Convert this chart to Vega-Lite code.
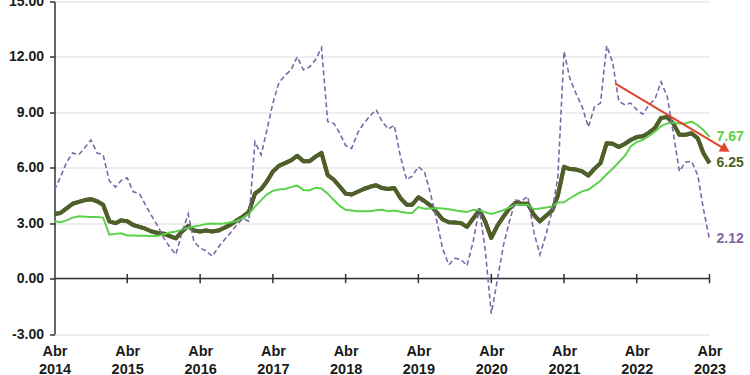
{
  "$schema": "https://vega.github.io/schema/vega-lite/v6.json",
  "width": 655,
  "height": 332.5,
  "autosize": {"type": "none"},
  "padding": {"left": 54.5, "top": 1.5, "right": 40.5, "bottom": 41},
  "background": "white",
  "config": {"view": {"stroke": null}, "font": "Liberation Sans"},
  "datasets": {
    "series": [
      {"date":"2014-04-01","s1":4.8,"s2":3.5,"s3":3.1},
      {"date":"2014-05-01","s1":5.5,"s2":3.55,"s3":3.05},
      {"date":"2014-06-01","s1":6.3,"s2":3.8,"s3":3.15},
      {"date":"2014-07-01","s1":6.8,"s2":4.05,"s3":3.3},
      {"date":"2014-08-01","s1":6.7,"s2":4.15,"s3":3.37},
      {"date":"2014-09-01","s1":7.1,"s2":4.25,"s3":3.35},
      {"date":"2014-10-01","s1":7.5,"s2":4.3,"s3":3.33},
      {"date":"2014-11-01","s1":6.8,"s2":4.18,"s3":3.33},
      {"date":"2014-12-01","s1":6.7,"s2":4.0,"s3":3.3},
      {"date":"2015-01-01","s1":5.3,"s2":3.1,"s3":2.38},
      {"date":"2015-02-01","s1":4.95,"s2":3.0,"s3":2.42},
      {"date":"2015-03-01","s1":5.3,"s2":3.15,"s3":2.45},
      {"date":"2015-04-01","s1":5.45,"s2":3.1,"s3":2.33},
      {"date":"2015-05-01","s1":4.7,"s2":2.9,"s3":2.33},
      {"date":"2015-06-01","s1":4.6,"s2":2.8,"s3":2.32},
      {"date":"2015-07-01","s1":4.0,"s2":2.7,"s3":2.32},
      {"date":"2015-08-01","s1":3.4,"s2":2.55,"s3":2.3},
      {"date":"2015-09-01","s1":2.85,"s2":2.47,"s3":2.3},
      {"date":"2015-10-01","s1":2.2,"s2":2.43,"s3":2.4},
      {"date":"2015-11-01","s1":1.7,"s2":2.3,"s3":2.5},
      {"date":"2015-12-01","s1":1.3,"s2":2.18,"s3":2.55},
      {"date":"2016-01-01","s1":2.5,"s2":2.55,"s3":2.65},
      {"date":"2016-02-01","s1":3.5,"s2":2.85,"s3":2.75},
      {"date":"2016-03-01","s1":2.0,"s2":2.6,"s3":2.82},
      {"date":"2016-04-01","s1":1.65,"s2":2.55,"s3":2.88},
      {"date":"2016-05-01","s1":1.5,"s2":2.6,"s3":2.95},
      {"date":"2016-06-01","s1":1.2,"s2":2.55,"s3":2.98},
      {"date":"2016-07-01","s1":1.7,"s2":2.6,"s3":2.97},
      {"date":"2016-08-01","s1":2.1,"s2":2.75,"s3":2.98},
      {"date":"2016-09-01","s1":2.5,"s2":2.92,"s3":3.05},
      {"date":"2016-10-01","s1":2.9,"s2":3.15,"s3":3.12},
      {"date":"2016-11-01","s1":3.25,"s2":3.35,"s3":3.27},
      {"date":"2016-12-01","s1":3.1,"s2":3.6,"s3":3.5},
      {"date":"2017-01-01","s1":7.4,"s2":4.6,"s3":3.9},
      {"date":"2017-02-01","s1":6.7,"s2":4.85,"s3":4.25},
      {"date":"2017-03-01","s1":8.0,"s2":5.25,"s3":4.55},
      {"date":"2017-04-01","s1":9.5,"s2":5.8,"s3":4.75},
      {"date":"2017-05-01","s1":10.6,"s2":6.1,"s3":4.82},
      {"date":"2017-06-01","s1":11.0,"s2":6.25,"s3":4.85},
      {"date":"2017-07-01","s1":11.3,"s2":6.4,"s3":4.95},
      {"date":"2017-08-01","s1":12.0,"s2":6.65,"s3":5.03},
      {"date":"2017-09-01","s1":11.3,"s2":6.35,"s3":4.8},
      {"date":"2017-10-01","s1":11.45,"s2":6.35,"s3":4.77},
      {"date":"2017-11-01","s1":11.85,"s2":6.6,"s3":4.92},
      {"date":"2017-12-01","s1":12.5,"s2":6.8,"s3":4.88},
      {"date":"2018-01-01","s1":8.5,"s2":5.6,"s3":4.6},
      {"date":"2018-02-01","s1":8.4,"s2":5.35,"s3":4.25},
      {"date":"2018-03-01","s1":7.9,"s2":5.0,"s3":3.95},
      {"date":"2018-04-01","s1":7.2,"s2":4.6,"s3":3.72},
      {"date":"2018-05-01","s1":7.05,"s2":4.55,"s3":3.68},
      {"date":"2018-06-01","s1":7.9,"s2":4.7,"s3":3.64},
      {"date":"2018-07-01","s1":8.4,"s2":4.85,"s3":3.64},
      {"date":"2018-08-01","s1":8.8,"s2":4.97,"s3":3.65},
      {"date":"2018-09-01","s1":9.15,"s2":5.05,"s3":3.7},
      {"date":"2018-10-01","s1":8.5,"s2":4.9,"s3":3.73},
      {"date":"2018-11-01","s1":8.1,"s2":4.85,"s3":3.64},
      {"date":"2018-12-01","s1":8.3,"s2":4.9,"s3":3.68},
      {"date":"2019-01-01","s1":6.6,"s2":4.36,"s3":3.62},
      {"date":"2019-02-01","s1":5.35,"s2":4.0,"s3":3.57},
      {"date":"2019-03-01","s1":5.55,"s2":4.0,"s3":3.55},
      {"date":"2019-04-01","s1":6.05,"s2":4.4,"s3":3.87},
      {"date":"2019-05-01","s1":5.8,"s2":4.2,"s3":3.78},
      {"date":"2019-06-01","s1":4.6,"s2":3.95,"s3":3.8},
      {"date":"2019-07-01","s1":3.2,"s2":3.6,"s3":3.82},
      {"date":"2019-08-01","s1":1.6,"s2":3.2,"s3":3.8},
      {"date":"2019-09-01","s1":0.75,"s2":3.05,"s3":3.75},
      {"date":"2019-10-01","s1":1.1,"s2":3.04,"s3":3.7},
      {"date":"2019-11-01","s1":1.03,"s2":3.0,"s3":3.65},
      {"date":"2019-12-01","s1":0.7,"s2":2.8,"s3":3.6},
      {"date":"2020-01-01","s1":2.0,"s2":3.25,"s3":3.72},
      {"date":"2020-02-01","s1":3.8,"s2":3.7,"s3":3.7},
      {"date":"2020-03-01","s1":1.6,"s2":3.1,"s3":3.6},
      {"date":"2020-04-01","s1":-1.9,"s2":2.2,"s3":3.5},
      {"date":"2020-05-01","s1":-0.1,"s2":2.85,"s3":3.6},
      {"date":"2020-06-01","s1":1.8,"s2":3.35,"s3":3.7},
      {"date":"2020-07-01","s1":3.1,"s2":3.8,"s3":3.85},
      {"date":"2020-08-01","s1":4.25,"s2":4.1,"s3":4.0},
      {"date":"2020-09-01","s1":4.2,"s2":4.05,"s3":4.0},
      {"date":"2020-10-01","s1":4.45,"s2":4.05,"s3":4.0},
      {"date":"2020-11-01","s1":2.5,"s2":3.45,"s3":3.75},
      {"date":"2020-12-01","s1":1.3,"s2":3.1,"s3":3.8},
      {"date":"2021-01-01","s1":2.4,"s2":3.4,"s3":3.85},
      {"date":"2021-02-01","s1":3.7,"s2":3.7,"s3":3.9},
      {"date":"2021-03-01","s1":5.5,"s2":4.5,"s3":4.12},
      {"date":"2021-04-01","s1":12.3,"s2":6.05,"s3":4.13},
      {"date":"2021-05-01","s1":10.8,"s2":5.93,"s3":4.35},
      {"date":"2021-06-01","s1":10.0,"s2":5.9,"s3":4.55},
      {"date":"2021-07-01","s1":9.3,"s2":5.8,"s3":4.72},
      {"date":"2021-08-01","s1":8.2,"s2":5.57,"s3":4.82},
      {"date":"2021-09-01","s1":9.3,"s2":5.95,"s3":5.05},
      {"date":"2021-10-01","s1":9.5,"s2":6.25,"s3":5.3},
      {"date":"2021-11-01","s1":12.6,"s2":7.33,"s3":5.65},
      {"date":"2021-12-01","s1":11.7,"s2":7.3,"s3":5.95},
      {"date":"2022-01-01","s1":9.6,"s2":7.12,"s3":6.3},
      {"date":"2022-02-01","s1":9.4,"s2":7.3,"s3":6.65},
      {"date":"2022-03-01","s1":9.5,"s2":7.5,"s3":7.15},
      {"date":"2022-04-01","s1":9.15,"s2":7.66,"s3":7.4},
      {"date":"2022-05-01","s1":8.9,"s2":7.7,"s3":7.5},
      {"date":"2022-06-01","s1":9.4,"s2":7.9,"s3":7.72},
      {"date":"2022-07-01","s1":9.7,"s2":8.15,"s3":7.95},
      {"date":"2022-08-01","s1":10.65,"s2":8.7,"s3":8.25},
      {"date":"2022-09-01","s1":9.85,"s2":8.74,"s3":8.4},
      {"date":"2022-10-01","s1":7.9,"s2":8.4,"s3":8.45},
      {"date":"2022-11-01","s1":5.8,"s2":7.78,"s3":8.4},
      {"date":"2022-12-01","s1":6.3,"s2":7.78,"s3":8.4},
      {"date":"2023-01-01","s1":6.35,"s2":7.87,"s3":8.5},
      {"date":"2023-02-01","s1":5.6,"s2":7.6,"s3":8.3},
      {"date":"2023-03-01","s1":3.8,"s2":6.8,"s3":8.05},
      {"date":"2023-04-01","s1":2.12,"s2":6.25,"s3":7.67}
    ],
    "zero": [{"value": 0}],
    "ticks": [
      {"date":"2015-04-01"},{"date":"2016-04-01"},{"date":"2017-04-01"},
      {"date":"2018-04-01"},{"date":"2019-04-01"},{"date":"2020-04-01"},
      {"date":"2021-04-01"},{"date":"2022-04-01"},{"date":"2023-04-01"}
    ],
    "arrow": [{"date":"2021-12-15","value":10.55,"date2":"2023-06-20","value2":7.0}],
    "labels": [
      {"date":"2023-04-01","value":7.67,"label":"7.67","series":"s3"},
      {"date":"2023-04-01","value":6.25,"label":"6.25","series":"s2"},
      {"date":"2023-04-01","value":2.12,"label":"2.12","series":"s1"}
    ]
  },
  "layer": [
    {
      "data": {"name": "series"},
      "mark": {"type": "line", "color": "#4e5f2a", "strokeWidth": 4, "strokeJoin": "round"},
      "encoding": {
        "x": {
          "field": "date", "type": "temporal", "title": null,
          "scale": {"type": "utc", "domain": [{"year": 2014, "month": 4, "date": 1, "utc": true}, {"year": 2023, "month": 4, "date": 1, "utc": true}]},
          "axis": {
            "title": null, "domain": false, "ticks": false, "grid": false,
            "values": [
              {"year": 2014, "month": 4, "date": 1, "utc": true},
              {"year": 2015, "month": 4, "date": 1, "utc": true},
              {"year": 2016, "month": 4, "date": 1, "utc": true},
              {"year": 2017, "month": 4, "date": 1, "utc": true},
              {"year": 2018, "month": 4, "date": 1, "utc": true},
              {"year": 2019, "month": 4, "date": 1, "utc": true},
              {"year": 2020, "month": 4, "date": 1, "utc": true},
              {"year": 2021, "month": 4, "date": 1, "utc": true},
              {"year": 2022, "month": 4, "date": 1, "utc": true},
              {"year": 2023, "month": 4, "date": 1, "utc": true}
            ],
            "labelExpr": "['Abr', utcFormat(datum.value, '%Y')]",
            "labelFont": "Liberation Sans", "labelFontSize": 14.5, "labelFontWeight": "bold",
            "labelColor": "#1a1a1a", "labelPadding": 10, "labelLineHeight": 18,
            "labelBaseline": "top", "labelFlush": false, "labelOverlap": false
          }
        },
        "y": {
          "field": "s2", "type": "quantitative", "title": null,
          "scale": {"domain": [-3, 15], "nice": false, "zero": false},
          "axis": {
            "title": null,
            "values": [-3, 0, 3, 6, 9, 12, 15],
            "labelExpr": "replace(format(datum.value, '.2f'), '\u2212', '-')",
            "labelFont": "Liberation Sans", "labelFontSize": 14, "labelFontWeight": "bold",
            "labelColor": "#1a1a1a", "labelPadding": 6,
            "domainColor": "#333333", "domainWidth": 1.5,
            "tickColor": "#333333", "tickSize": 5, "tickWidth": 1.5,
            "grid": true, "gridColor": "#dcdcdc", "gridWidth": 1
          }
        }
      }
    },
    {
      "data": {"name": "zero"},
      "mark": {"type": "rule", "color": "#333333", "strokeWidth": 1.5},
      "encoding": {"y": {"field": "value", "type": "quantitative", "title": null}}
    },
    {
      "data": {"name": "ticks"},
      "mark": {"type": "rule", "color": "#333333", "strokeWidth": 1.5},
      "encoding": {
        "x": {"field": "date", "type": "temporal", "title": null},
        "y": {"datum": -0.25, "type": "quantitative", "title": null},
        "y2": {"datum": 0.25}
      }
    },
    {
      "data": {"name": "series"},
      "mark": {"type": "line", "color": "#4e5f2a", "strokeWidth": 4, "strokeJoin": "round"},
      "encoding": {
        "x": {"field": "date", "type": "temporal", "title": null},
        "y": {"field": "s2", "type": "quantitative", "title": null}
      }
    },
    {
      "data": {"name": "series"},
      "mark": {"type": "line", "color": "#5cd14b", "strokeWidth": 2},
      "encoding": {
        "x": {"field": "date", "type": "temporal", "title": null},
        "y": {"field": "s3", "type": "quantitative", "title": null}
      }
    },
    {
      "data": {"name": "series"},
      "mark": {"type": "line", "color": "#8066a8", "strokeWidth": 1.6, "strokeDash": [5, 3]},
      "encoding": {
        "x": {"field": "date", "type": "temporal", "title": null},
        "y": {"field": "s1", "type": "quantitative", "title": null}
      }
    },
    {
      "data": {"name": "arrow"},
      "mark": {"type": "rule", "color": "#e0442a", "strokeWidth": 2, "clip": false},
      "encoding": {
        "x": {"field": "date", "type": "temporal", "title": null},
        "x2": {"field": "date2"},
        "y": {"field": "value", "type": "quantitative", "title": null},
        "y2": {"field": "value2"}
      }
    },
    {
      "data": {"name": "arrow"},
      "mark": {"type": "point", "shape": "triangle-right", "filled": true, "color": "#e0442a", "opacity": 1, "size": 120, "angle": 31, "clip": false},
      "encoding": {
        "x": {"field": "date2", "type": "temporal", "title": null},
        "y": {"field": "value2", "type": "quantitative", "title": null}
      }
    },
    {
      "data": {"name": "labels"},
      "mark": {"type": "text", "align": "left", "baseline": "middle", "dx": 7, "font": "Liberation Sans", "fontSize": 14, "fontWeight": "bold", "clip": false},
      "encoding": {
        "x": {"field": "date", "type": "temporal", "title": null},
        "y": {"field": "value", "type": "quantitative", "title": null},
        "text": {"field": "label"},
        "color": {"field": "series", "type": "nominal", "legend": null,
          "scale": {"domain": ["s1", "s2", "s3"], "range": ["#8066a8", "#4e5f2a", "#5cd14b"]}}
      }
    }
  ]
}
